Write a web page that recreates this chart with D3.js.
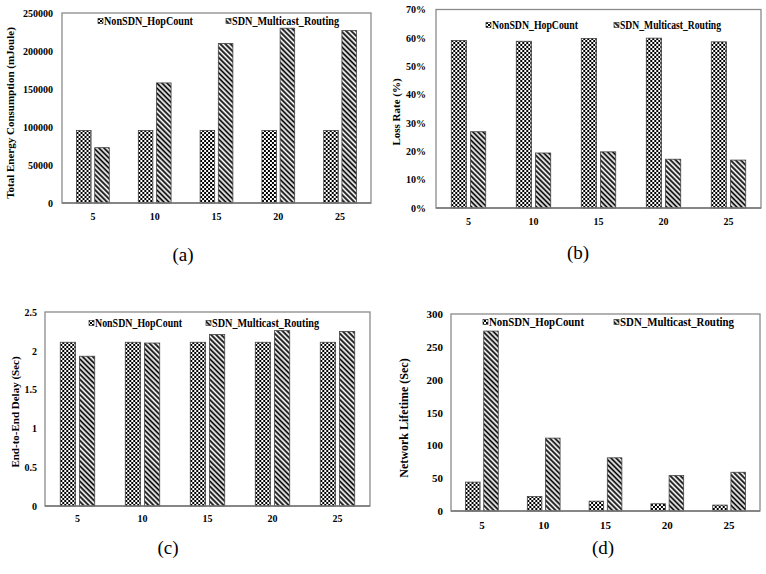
<!DOCTYPE html>
<html>
<head>
<meta charset="utf-8">
<script src="https://cdn.jsdelivr.net/npm/d3@7"></script>
<style>
  body { margin: 0; background: #fff; }
  svg { display: block; }
  .tick text { font-family: "Liberation Serif", serif; font-weight: bold; fill: #000; }
</style>
</head>
<body>
<svg id="fig" width="766" height="574"></svg>
<script>
// values
var categories = ["5", "10", "15", "20", "25"];
var seriesNames = ["NonSDN_HopCount", "SDN_Multicast_Routing"];

var energyNonSDN = [95500, 95500, 95500, 95500, 95500];
var energySDN = [72800, 158000, 210000, 230000, 227000];
var energyTicks = [0, 50000, 100000, 150000, 200000, 250000];

var lossNonSDN = [0.591, 0.588, 0.598, 0.599, 0.586];
var lossSDN = [0.269, 0.194, 0.198, 0.172, 0.169];
var lossTicks = [0, 0.1, 0.2, 0.3, 0.4, 0.5, 0.6, 0.7];

var delayNonSDN = [2.11, 2.11, 2.11, 2.11, 2.11];
var delaySDN = [1.93, 2.10, 2.21, 2.26, 2.25];
var delayTicks = [0, 0.5, 1, 1.5, 2, 2.5];

var lifeNonSDN = [44, 22, 15, 11, 9];
var lifeSDN = [274, 111, 81, 54, 59];
var lifeTicks = [0, 50, 100, 150, 200, 250, 300];

var svg = d3.select("#fig");
var defs = svg.append("defs");

// checkerboard for NonSDN
var chk = defs.append("pattern").attr("id", "checks")
    .attr("patternUnits", "userSpaceOnUse").attr("width", 4).attr("height", 4);
chk.append("rect").attr("width", 4).attr("height", 4).attr("fill", "#fff");
chk.append("rect").attr("width", 2).attr("height", 2).attr("fill", "#000");
chk.append("rect").attr("x", 2).attr("y", 2).attr("width", 2).attr("height", 2).attr("fill", "#000");

// diagonal stripes for SDN
var str = defs.append("pattern").attr("id", "stripes")
    .attr("patternUnits", "userSpaceOnUse").attr("width", 3.6).attr("height", 3.6)
    .attr("patternTransform", "rotate(-45)");
str.append("rect").attr("width", 3.6).attr("height", 3.6).attr("fill", "#fff");
str.append("line").attr("x1", 1.2).attr("y1", 0).attr("x2", 1.2).attr("y2", 3.6)
    .attr("stroke", "#000").attr("stroke-width", 1.8);

var fills = ["url(#checks)", "url(#stripes)"];

function drawPanel(p) {
  var g = svg.append("g");

  var x0 = d3.scaleBand().domain(categories).range([p.left, p.right])
      .paddingInner(0.47).paddingOuter(0.235);
  var x1 = d3.scaleBand().domain(seriesNames).range([0, x0.bandwidth()]).paddingInner(0.2);
  var y = d3.scaleLinear().domain([0, p.yMax]).range([p.bottom, p.top]);

  // frame
  g.append("rect")
      .attr("x", p.left).attr("y", p.top)
      .attr("width", p.right - p.left).attr("height", p.bottom - p.top)
      .attr("fill", "none").attr("stroke", "#8a8a8a").attr("stroke-width", 1.3);

  var rows = categories.map(function(c, i) {
    return { cat: c, vals: [p.series[0][i], p.series[1][i]] };
  });

  g.selectAll(".grp").data(rows).enter().append("g")
      .attr("transform", function(d) { return "translate(" + x0(d.cat) + ",0)"; })
    .selectAll("rect").data(function(d) { return d.vals; }).enter().append("rect")
      .attr("x", function(d, i) { return x1(seriesNames[i]); })
      .attr("y", function(d) { return y(d); })
      .attr("width", x1.bandwidth())
      .attr("height", function(d) { return p.bottom - y(d); })
      .attr("fill", function(d, i) { return fills[i]; })
      .attr("stroke", "#444").attr("stroke-width", 0.8);

  // axes
  var ya = g.append("g").attr("transform", "translate(" + p.left + ",0)")
      .call(d3.axisLeft(y).tickValues(p.ticks).tickSize(0).tickPadding(p.tickPad).tickFormat(p.fmt));
  ya.select(".domain").remove();
  ya.selectAll("text").style("font-size", p.tickFont + "px");

  var xa = g.append("g").attr("transform", "translate(0," + p.bottom + ")")
      .call(d3.axisBottom(x0).tickSize(0).tickPadding(p.xPad));
  xa.select(".domain").remove();
  xa.selectAll("text").style("font-size", p.tickFont + "px");

  g.append("line")
      .attr("x1", p.left).attr("x2", p.right).attr("y1", p.bottom).attr("y2", p.bottom)
      .attr("stroke", "#777").attr("stroke-width", 1.3);

  // y title
  g.append("text")
      .attr("transform", "translate(" + p.titleX + "," + p.titleY + ") rotate(-90)")
      .attr("text-anchor", "middle").attr("dominant-baseline", "central")
      .style("font-family", "Liberation Serif, serif").style("font-weight", "bold")
      .style("font-size", p.titleFont + "px")
      .text(p.title);

  // legend (text a bit condensed, like the original)
  seriesNames.forEach(function(name, i) {
    var lx = p.legX[i];
    g.append("rect")
        .attr("x", lx).attr("y", p.legY - 2.5).attr("width", 5).attr("height", 5)
        .attr("fill", fills[i]).attr("stroke", "#333").attr("stroke-width", 0.7);
    g.append("text")
        .attr("x", lx + 6).attr("y", p.legY)
        .attr("dominant-baseline", "central")
        .attr("textLength", p.legW[i]).attr("lengthAdjust", "spacingAndGlyphs")
        .style("font-family", "Liberation Serif, serif").style("font-weight", "bold")
        .style("font-size", p.legFont + "px")
        .text(name);
  });

  // caption
  g.append("text")
      .attr("x", p.capX).attr("y", p.capY)
      .attr("text-anchor", "middle")
      .style("font-family", "Liberation Serif, serif")
      .style("font-size", "19px")
      .text(p.caption);
}

drawPanel({
  left: 62, top: 13, right: 371, bottom: 203,
  series: [energyNonSDN, energySDN], yMax: 250000, ticks: energyTicks,
  fmt: d3.format("d"), tickFont: 10, tickPad: 9, xPad: 10,
  title: "Total Energy Consumption (mJoule)", titleX: 10, titleY: 113, titleFont: 11,
  legX: [98, 226], legY: 21, legFont: 11.5, legW: [89, 107],
  caption: "(a)", capX: 183, capY: 261
});

drawPanel({
  left: 436, top: 9.5, right: 761, bottom: 208,
  series: [lossNonSDN, lossSDN], yMax: 0.7, ticks: lossTicks,
  fmt: d3.format(".0%"), tickFont: 10, tickPad: 10, xPad: 10,
  title: "Loss Rate (%)", titleX: 396, titleY: 112, titleFont: 11,
  legX: [486, 614], legY: 25, legFont: 11.5, legW: [86, 101],
  caption: "(b)", capX: 578, capY: 259
});

drawPanel({
  left: 45, top: 312, right: 370, bottom: 506,
  series: [delayNonSDN, delaySDN], yMax: 2.5, ticks: delayTicks,
  fmt: d3.format("~g"), tickFont: 10, tickPad: 8, xPad: 9,
  title: "End-to-End Delay (Sec)", titleX: 15, titleY: 412, titleFont: 11,
  legX: [89, 206], legY: 323, legFont: 11.5, legW: [87, 107],
  caption: "(c)", capX: 168, capY: 554
});

drawPanel({
  left: 451, top: 314, right: 760, bottom: 511,
  series: [lifeNonSDN, lifeSDN], yMax: 300, ticks: lifeTicks,
  fmt: d3.format("d"), tickFont: 11, tickPad: 8, xPad: 10,
  title: "Network Lifetime (Sec)", titleX: 404, titleY: 418, titleFont: 12,
  legX: [483, 614], legY: 322, legFont: 12, legW: [95, 114],
  caption: "(d)", capX: 603, capY: 554
});
</script>
</body>
</html>
